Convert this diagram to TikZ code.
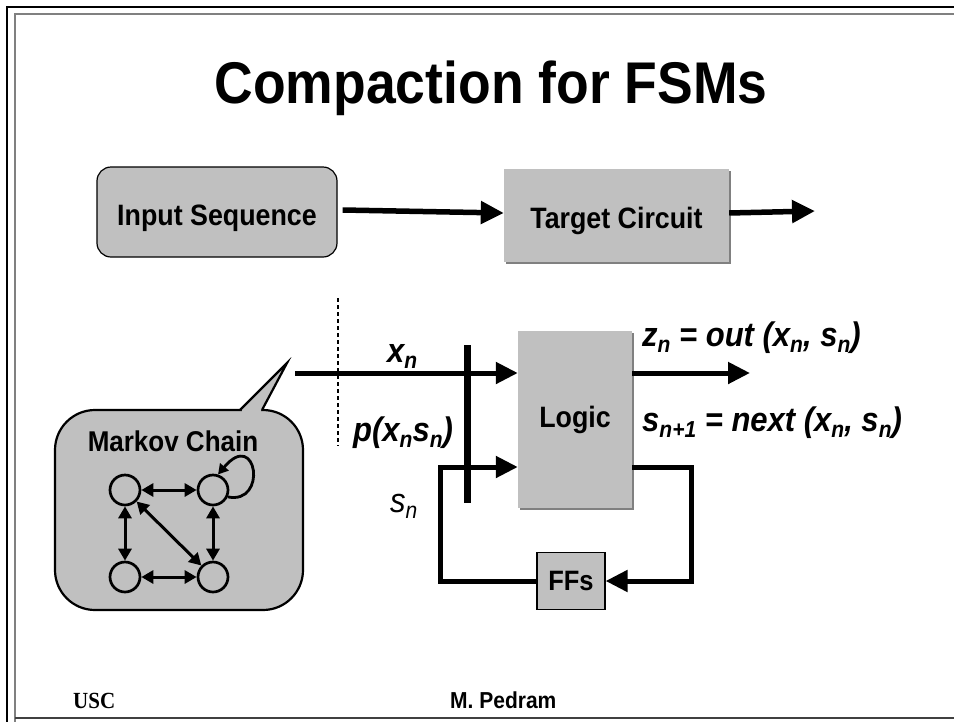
\documentclass[tikz,border=0pt]{standalone}
\usepackage{fontspec}
\setmainfont{Liberation Sans}
\newfontfamily\timesfont{Liberation Serif}
\usetikzlibrary{arrows.meta,calc,shadows}
\definecolor{boxgray}{RGB}{192,192,192}
\definecolor{shadowgray}{RGB}{128,128,128}
\newcommand\fsz[1]{\fontsize{#1}{#1}\selectfont}
\newcommand\sbn[1]{\raisebox{-0.2em}{\fsz{21}#1}}
% the slide lettering is set slightly tall
\newcommand\tall[1]{\scalebox{1}[1.1]{#1}}
\begin{document}
\begin{tikzpicture}[x=1pt,y=-1pt,
  wire/.style={line width=5pt, line join=miter},
  bigtip/.style={-{Triangle[length=22pt,width=21pt]}},
  mktip/.style={line width=3pt,{Triangle[length=12pt,width=13pt]}-{Triangle[length=12pt,width=13pt]}},
  state/.style={circle, draw, line width=2.7pt, fill=boxgray, minimum size=30pt, inner sep=0pt},
  lbl/.style={font=\fsz{31}\bfseries\itshape, inner sep=0pt, anchor=base west},
  boxtxt/.style={font=\fsz{26.8}\bfseries},
  lowtxt/.style={text height=26pt, text depth=0pt},
  shbox/.style={fill=boxgray, drop shadow={shadow xshift=2pt, shadow yshift=-2pt, fill=shadowgray, opacity=1}}]
\clip (0,0) rectangle (954,721);
% slide frame
\draw[line width=2.5pt] (7,7) rectangle (1000,760);
\draw[shadowgray, line width=1.5pt] (15,730) -- (15,14) -- (1000,14);
\draw[black!75, line width=1.5pt] (15,718) -- (1000,718);

% title
\node[font=\fsz{53.5}\bfseries, anchor=base, inner sep=0pt] (title) at (491,103) {\tall{Compaction for FSMs}};

% top block diagram
\node[draw, line width=1.2pt, fill=boxgray, rounded corners=14pt, minimum width=240pt, minimum height=90pt, boxtxt, lowtxt] (inseq) at (217,212) {\tall{Input Sequence}};
\node[shbox, minimum width=225pt, minimum height=93pt, boxtxt, lowtxt] (target) at (616.5,215.5) {\tall{Target Circuit}};
\coordinate (outT) at (815,211);
\draw[line width=5.5pt, -{Triangle[length=23pt,width=22pt]}] ([xshift=5pt,yshift=2pt]inseq.east) -- ([yshift=2.5pt]target.west);
\draw[line width=5.5pt, -{Triangle[length=23pt,width=22pt]}] ([yshift=2.5pt]target.east) -- (outT);

% sequential machine
\node[shbox, minimum width=114pt, minimum height=177pt, boxtxt] (logic) at (575,419.5) {\tall{Logic}};
\node[draw, line width=1.2pt, fill=boxgray, minimum width=68pt, minimum height=57pt, font=\fsz{25.5}\bfseries] (ffs) at (571,581) {\tall{FFs}};

\coordinate (xin) at (295,373);
\coordinate (zout) at (750,373);
\coordinate (fbL) at (440,467);
\coordinate (fbR) at (691,467);
\coordinate (barT) at (467,345);
\coordinate (barB) at (467,503);
\coordinate (dashT) at (338,298);
\coordinate (dashB) at (338,446);

\draw[wire,bigtip] (xin) -- (xin -| logic.west);
\draw[wire,bigtip] (logic.east |- zout) -- (zout);
\draw[wire,bigtip] (logic.east |- fbR) -- (fbR) |- (ffs.east);
\draw[wire,bigtip] (ffs.west) -| (fbL) -- (fbL -| logic.west);
\draw[line width=7pt] (barT) -- (barB);
\draw[line width=1.3pt, dash pattern=on 4pt off 3pt] (dashT) -- (dashB);

\node[lbl] (xlab) at (387,362) {\tall{x\sbn{n}}};
\node[lbl] (plab) at (353,441) {\tall{p(x\sbn{n}s\sbn{n})}};
\node[lbl, font=\fsz{31}\itshape] (slab) at (390,512) {\tall{s\sbn{n}}};
\node[lbl] (zlab) at (642,346) {\tall{z\sbn{n} = out (x\sbn{n}, s\sbn{n})}};
\node[lbl] (nlab) at (642,431) {\tall{s\sbn{n+1} = next (x\sbn{n}, s\sbn{n})}};

% Markov chain callout
\node[draw, line width=2.2pt, fill=boxgray, rounded corners=40pt, minimum width=248pt, minimum height=200pt] (bubble) at (179,510) {};
\fill[boxgray] (240,410) -- (287,363) -- (262,410) -- cycle;
\fill[boxgray] (241.5,408) rectangle (260.5,412);
\draw[line width=2.2pt, line join=miter] (240,410) -- (287,363) -- (262,410);
\node[font=\fsz{26}\bfseries, anchor=base, inner sep=0pt] (mklab) at (173,451) {\tall{Markov Chain}};

\node[state] (m1) at (125,490) {};
\node[state] (m2) at (213,490) {};
\node[state] (m3) at (125,577) {};
\node[state] (m4) at (213,577) {};
\draw[mktip] (m1) -- (m2);
\draw[mktip] (m1) -- (m3);
\draw[mktip] (m2) -- (m4);
\draw[mktip] (m3) -- (m4);
\draw[mktip] (m1) -- (m4);
\draw[line width=2.8pt, -{Triangle[length=10pt,width=11pt]}] (m2.-25) .. controls (268,505) and (257,428) .. (m2.72);

% footer
\node[font=\timesfont\fsz{21}\bfseries, anchor=base west, inner sep=0pt] (usc) at (73,708) {\tall{USC}};
\node[font=\fsz{21}\bfseries, anchor=base west, inner sep=0pt] (author) at (450,708) {\tall{M. Pedram}};
\end{tikzpicture}
\end{document}
